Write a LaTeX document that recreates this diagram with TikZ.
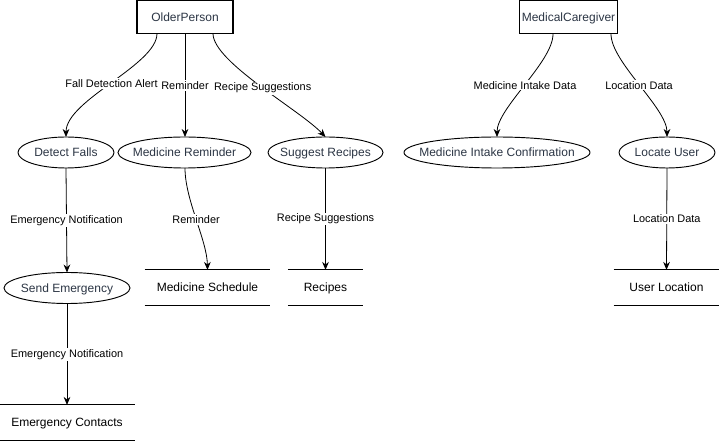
\documentclass[tikz,border=0pt]{standalone}
\usepackage{fontspec}
\setmainfont{Liberation Sans}
\usetikzlibrary{shapes.geometric,arrows.meta}
\definecolor{ntext}{HTML}{2B3544}
\tikzset{
  vc/.style={text height=6.5pt,text depth=0pt},
  ent/.style={draw,vc,line width=0.8pt,minimum width=72pt,minimum height=25pt,inner sep=0pt,text=ntext,font=\fontsize{9}{10}\selectfont},
  proc/.style={ellipse,vc,inner sep=0pt,text=ntext,font=\fontsize{9}{10}\selectfont},
  procline/.style={line width=0.7pt},
  store/.style={vc,minimum height=26pt,inner sep=0pt,font=\fontsize{9}{10}\selectfont},
  flow/.style={draw,line width=0.6pt,-{Stealth[length=6pt,width=5pt]}},
  lab/.style={fill=white,inner sep=1pt,font=\fontsize{8.2}{9}\selectfont}
}
% #1 name, #2 position, #3 half width (px), #4 text
\newcommand{\procnode}[4]{%
  \node[proc,minimum width=#3*1.5pt,minimum height=23.5pt] (#1) at (#2) {#4};
  \draw[procline] (#2) ellipse ({#3} and 15.5);
}
\begin{document}
\begin{tikzpicture}[x=0.75pt,y=-0.75pt]
\useasboundingbox (0,0) rectangle (721,441);
% entities
\node[ent,minimum width=72pt] (op) at (185,17) {OlderPerson};
\node[ent,minimum width=74pt] (mc) at (568.5,17) {MedicalCaregiver};
% processes (text nodes with drawn ellipses)
\procnode{df}{66,152.5}{48}{Detect Falls}
\procnode{mr}{184.5,152.5}{66.5}{Medicine Reminder}
\procnode{sr}{325.5,152.5}{57.5}{Suggest Recipes}
\procnode{mic}{497,152.5}{93}{Medicine Intake Confirmation}
\procnode{lu}{667,152.5}{48}{Locate User}
\procnode{se}{67,288}{63}{Send Emergency}
% data stores
\node[store,minimum width=94pt] (ms) at (207.5,287.5) {Medicine Schedule};
\node[store,minimum width=56pt] (rc) at (325.5,287.5) {Recipes};
\node[store,minimum width=79pt] (ul) at (666.5,287.5) {User Location};
\node[store,minimum width=101pt] (ec) at (67,422.5) {Emergency Contacts};
\foreach \s in {ms,rc,ul,ec}{
  \draw[line width=0.8pt] (\s.north west) -- (\s.north east);
  \draw[line width=0.8pt] (\s.south west) -- (\s.south east);
}
% ellipse top/bottom points
\coordinate (dfT) at (66,137); \coordinate (dfB) at (66,168);
\coordinate (mrT) at (185,137); \coordinate (mrB) at (185,168);
\coordinate (srT) at (325.5,137); \coordinate (srB) at (325.5,168);
\coordinate (micT) at (497,137);
\coordinate (luT) at (667,137); \coordinate (luB) at (667,168);
\coordinate (seT) at (67,272.5); \coordinate (seB) at (67,303.5);
% coordinates on entity bottoms
\coordinate (op1) at (157,33.5);
\coordinate (op2) at (185,33.5);
\coordinate (op3) at (213,33.5);
\coordinate (mc1) at (553,34);
\coordinate (mc2) at (611,34);
% flows
\draw[flow] (op1) .. controls (157,65) and (66,100) .. (dfT) node[lab,pos=0.5] {Fall Detection Alert};
\draw[flow] (op2) -- (mrT) node[lab,pos=0.5] {Reminder};
\draw[flow] (op3) .. controls (213,62) and (300,110) .. (srT) node[lab,pos=0.52] {Recipe Suggestions};
\draw[flow] (mc1) .. controls (553,62) and (497,108) .. (micT) node[lab,pos=0.5] {Medicine Intake Data};
\draw[flow] (mc2) .. controls (611,62) and (667,108) .. (luT) node[lab,pos=0.5] {Location Data};
\draw[flow] (dfB) -- (seT) node[lab,pos=0.5] {Emergency Notification};
\draw[flow] (mrB) .. controls (185,200) and (207,240) .. (ms.north) node[lab,pos=0.5] {Reminder};
\draw[flow] (srB) -- (rc.north) node[lab,pos=0.5] {Recipe Suggestions};
\draw[flow] (luB) -- (ul.north) node[lab,pos=0.5] {Location Data};
\draw[flow] (seB) -- (ec.north) node[lab,pos=0.5] {Emergency Notification};
\end{tikzpicture}
\end{document}
